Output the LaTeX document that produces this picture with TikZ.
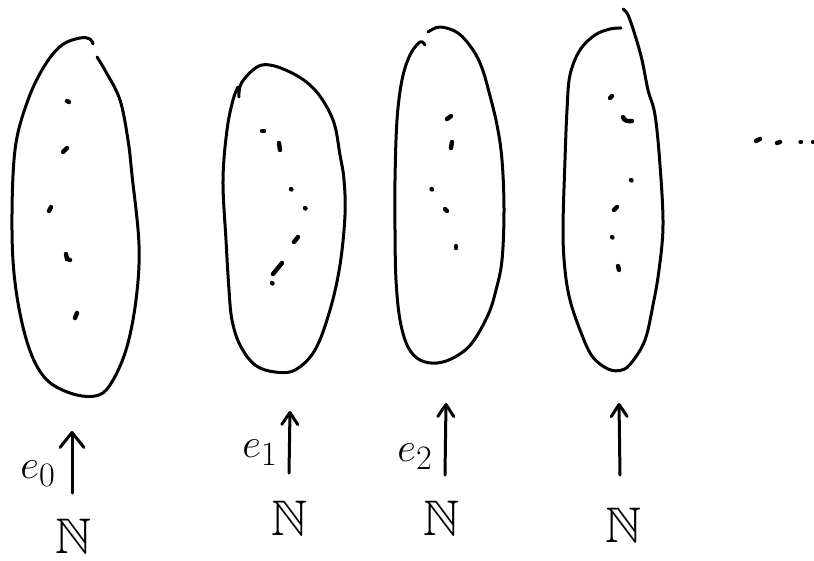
\documentclass[tikz,border=0pt]{standalone}
\usepackage{amssymb}
\usetikzlibrary{arrows.meta}
\tikzset{
  blob/.style={line width=3pt, line cap=round, line join=round},
  dotmark/.style={line width=4.4pt, line cap=round},
  uparrow/.style={line width=3pt, line cap=round, -{Straight Barb[length=15pt,width=24pt,line width=3pt,round]}},
  smallarrow/.style={line width=3pt, line cap=round, -{Straight Barb[length=12pt,width=16pt,line width=3pt,round]}},
  lbl/.style={inner sep=0pt, font=\fontsize{24.88}{30}\selectfont},
  nat/.style={inner sep=0pt, font=\fontsize{50}{60}\selectfont}
}
\newcommand{\biglbl}[1]{\scalebox{1.65}{$#1$}}
\begin{document}
\begin{tikzpicture}[x=1pt,y=-1pt]
\useasboundingbox (0,0) rectangle (814,560);

% ---- blob 1 ----
\draw[blob] plot[smooth, tension=0.6] coordinates {(97,57) (106,72) (120,100) (128,140) (132,175) (139,245) (136,300) (126,350) (110,385) (95,396) (70,393) (45,378) (28,345) (16,290) (12,230) (15,150) (28,100) (45,65) (62,45) (80,38) (90,39) (93,44)};
% dots blob 1
\draw[dotmark] (67,101) -- (69,102);
\draw[dotmark] (63,152) -- (67,148);
\draw[dotmark] (49,211) -- (51,207);
\draw[dotmark] (66,254) -- (67,259) -- (70,260);
\draw[dotmark] (75,318) -- (77,313);

% ---- blob 2 ----
\draw[blob] plot[smooth, tension=0.6] coordinates {(239,97) (242,82) (262,65) (290,72) (315,90) (333,120) (340,155) (344,180) (345,215) (340,265) (330,310) (315,350) (295,370) (275,372) (255,365) (240,345) (232,320) (229,290) (226,240) (223,180) (227,130) (233,100) (238,87)};
% dots blob 2
\draw[dotmark] (262,131) -- (264,131);
\draw[dotmark] (279,143) -- (280,150);
\draw[dotmark] (291,189) -- (291.5,189.5);
\draw[dotmark] (305,208) -- (305.5,208.5);
\draw[dotmark] (294,242) -- (298,237);
\draw[dotmark] (273,274) -- (282,263);
\draw[dotmark] (272,283) -- (272.5,283.5);

% ---- blob 3 ----
\draw[blob] plot[smooth, tension=0.6] coordinates {(428,32) (440,27) (458,33) (473,50) (482,68) (489,92) (497,125) (502,160) (504,210) (502,260) (496,290) (488,315) (472,343) (455,357) (437,363) (420,360) (408,347) (400,320) (396,280) (395,230) (395,180) (397,120) (402,80) (410,55) (420,42) (425,45)};
% dots blob 3
\draw[dotmark] (447,119) -- (451,116);
\draw[dotmark] (451,148) -- (452,142);
\draw[dotmark] (431.5,189) -- (432,189.5);
\draw[dotmark] (445,209) -- (447,211);
\draw[dotmark] (456,246) -- (456,248);

% ---- blob 4 ----
\draw[blob] plot[smooth, tension=0.6] coordinates {(623,9) (628,15) (635,35) (642,60) (648,90) (655,115) (660,165) (663,225) (659,270) (653,305) (645,340) (632,362) (622,370) (608,369) (592,356) (580,330) (570,300) (565,270) (563,230) (565,160) (567,110) (570,75) (580,50) (595,35) (610,29) (621,28)};
% dots blob 4
\draw[dotmark] (610,98) -- (612,96);
\draw[dotmark] (623,117) to[out=-80,in=190] (632,121);
\draw[dotmark] (631,180) -- (631.5,180.5);
\draw[dotmark] (614,210) -- (617,207);
\draw[dotmark] (612,237) -- (612.5,237.5);
\draw[dotmark] (618,266) -- (619,270);

% ---- trailing dots ----
\draw[dotmark] (756,141) -- (760,139);
\draw[dotmark] (777,143) -- (780,142);
\draw[dotmark] (800.5,142) -- (801,142);
\draw[dotmark] (813,142) -- (814,142);

% ---- arrows and labels ----
\coordinate (a0s) at (72,493); \coordinate (a0e) at (72,431);
\coordinate (a1s) at (289,473); \coordinate (a1e) at (290,411);
\coordinate (a2s) at (445,475); \coordinate (a2e) at (446,403);
\coordinate (a3s) at (620,475); \coordinate (a3e) at (619,403);
\draw[uparrow] (a0s) -- (a0e);
\draw[smallarrow] (a1s) -- (a1e);
\draw[smallarrow] (a2s) -- (a2e);
\draw[smallarrow] (a3s) -- (a3e);

\node[lbl] (e0) at (38,474) {\biglbl{e_0}};
\node[lbl] (e1) at (260,453) {\biglbl{e_1}};
\node[lbl] (e2) at (415,457) {\biglbl{e_2}};

\node[nat] (n0) at (74,536) {$\mathbb{N}$};
\node[nat] (n1) at (290,518) {$\mathbb{N}$};
\node[nat] (n2) at (442,518) {$\mathbb{N}$};
\node[nat] (n3) at (624,525) {$\mathbb{N}$};
\end{tikzpicture}
\end{document}
